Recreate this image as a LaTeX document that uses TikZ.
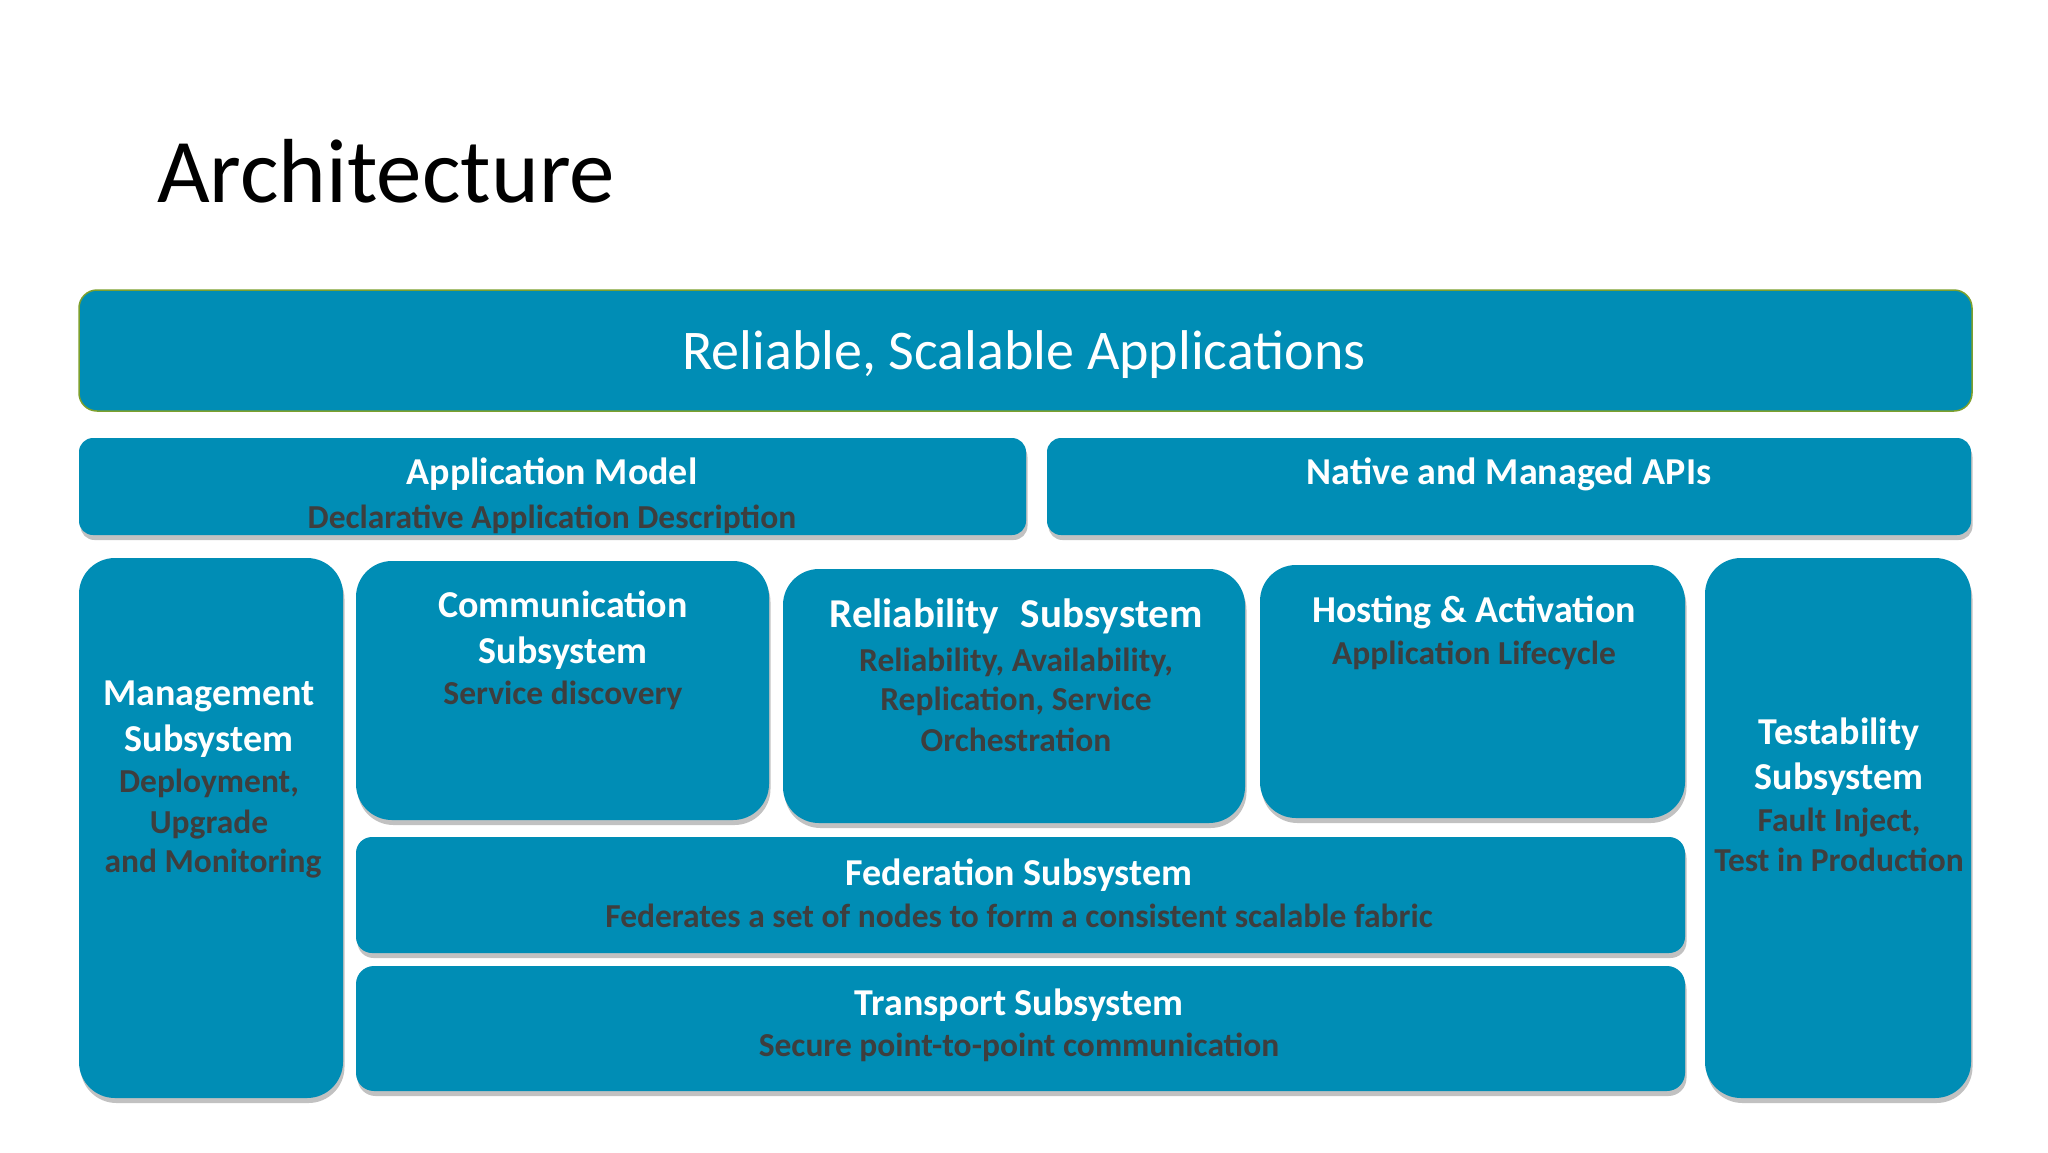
\documentclass[tikz,border=0pt]{standalone}
\usepackage{fontspec}
\setmainfont{Carlito}
\usetikzlibrary{shadows}
\definecolor{boxblue}{RGB}{0,141,181}
\definecolor{subgray}{RGB}{62,62,62}
\definecolor{edgegreen}{RGB}{125,160,45}
\begin{document}
\begin{tikzpicture}[x=1pt,y=-1pt,
  plainbox/.style={fill=boxblue, draw=none, inner sep=0pt, outer sep=0pt, anchor=north west},
  box/.style={plainbox,
    drop shadow={shadow xshift=1.5pt, shadow yshift=-5pt, opacity=0.3, fill=black!80}},
  ttl/.style={text=white, font=\fontsize{38}{46}\selectfont\bfseries, anchor=base, inner sep=0pt},
  sub/.style={text=subgray, font=\fontsize{33.5}{40}\selectfont\bfseries, anchor=base, inner sep=0pt}]
\useasboundingbox (0,0) rectangle (2048,1152);
\fill[white] (0,0) rectangle (2048,1152);

\node[anchor=base west, inner sep=0pt, font=\fontsize{91}{100}\selectfont] (title) at (157,202) {Architecture};

% boxes
\node[plainbox, draw=edgegreen, line width=1.5pt, rounded corners=18pt, minimum width=1893pt, minimum height=121pt] (top) at (79,290) {};
\node[box, rounded corners=14pt, minimum width=947pt, minimum height=97pt] (app) at (79,438) {};
\node[box, rounded corners=14pt, minimum width=924pt, minimum height=97pt] (api) at (1047,438) {};
\node[box, rounded corners=36pt, minimum width=264pt, minimum height=540pt] (mgmt) at (79,558) {};
\node[box, rounded corners=36pt, minimum width=413pt, minimum height=259pt] (comm) at (356,561) {};
\node[box, rounded corners=36pt, minimum width=462pt, minimum height=254pt] (rel) at (783,569) {};
\node[box, rounded corners=36pt, minimum width=425pt, minimum height=253pt] (host) at (1260,565) {};
\node[box, rounded corners=36pt, minimum width=266pt, minimum height=540pt] (test) at (1705,558) {};
\node[box, rounded corners=16pt, minimum width=1329pt, minimum height=116pt] (fed) at (356,837) {};
\node[box, rounded corners=18pt, minimum width=1329pt, minimum height=125pt] (trans) at (356,966) {};

% texts
\node[anchor=base, inner sep=0pt, text=white, font=\fontsize{56}{66}\selectfont] (topT) at (1024,369) {Reliable, Scalable Applications};

\node[ttl] (appT) at (552,484) {Application Model};
\node[sub] (appS) at (552,528) {Declarative Application Description};
\node[ttl] (apiT) at (1509,484) {Native and Managed APIs};

\node[ttl] (mgmtT1) at (209,705) {Management};
\node[ttl] (mgmtT2) at (209,751) {Subsystem};
\node[sub] (mgmtS1) at (209,792) {Deployment,};
\node[sub] (mgmtS2) at (209,833) {Upgrade};
\node[sub] (mgmtS3) at (213,872) {and Monitoring};

\node[ttl] (commT1) at (563,617) {Communication};
\node[ttl] (commT2) at (563,663) {Subsystem};
\node[sub] (commS) at (563,704) {Service discovery};

\node[ttl, font=\fontsize{41}{48}\selectfont\bfseries] (relT) at (1016,627) {Reliability\hspace{22pt}Subsystem};
\node[sub] (relS1) at (1016,671) {Reliability, Availability,};
\node[sub] (relS2) at (1016,710) {Replication, Service};
\node[sub] (relS3) at (1016,751) {Orchestration};

\node[ttl] (hostT) at (1474,622) {Hosting \& Activation};
\node[sub] (hostS) at (1474,664) {Application Lifecycle};

\node[ttl] (testT1) at (1839,744) {Testability};
\node[ttl] (testT2) at (1839,789) {Subsystem};
\node[sub] (testS1) at (1839,831) {Fault Inject,};
\node[sub] (testS2) at (1839,871) {Test in Production};

\node[ttl] (fedT) at (1019,885) {Federation Subsystem};
\node[sub] (fedS) at (1019,927) {Federates a set of nodes to form a consistent scalable fabric};

\node[ttl] (transT) at (1019,1015) {Transport Subsystem};
\node[sub] (transS) at (1019,1056) {Secure point-to-point communication};
\end{tikzpicture}
\end{document}
